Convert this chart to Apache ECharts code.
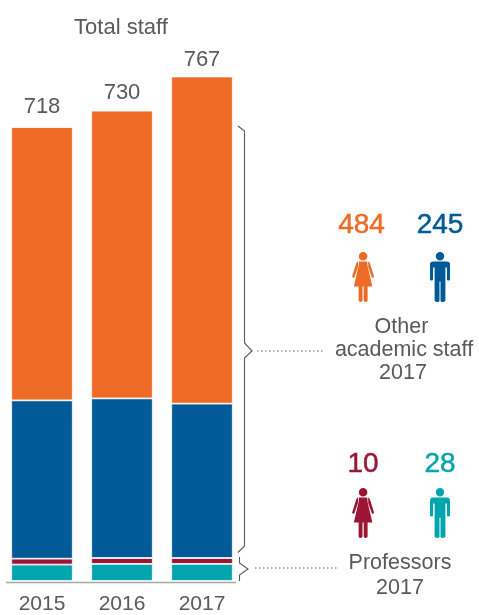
<!DOCTYPE html>
<html><head><meta charset="utf-8">
<style>html,body{margin:0;padding:0;background:#fff}#c{width:479px;height:615px}</style>
<script src="https://cdn.jsdelivr.net/npm/echarts@6/dist/echarts.min.js"></script>
</head><body><div id="c"></div>
<script>
const years = ['2015','2016','2017'];
const totals = [718,730,767];
const professorsMen = [25,26,26];
const professorsWomen = [9,9,9];
const otherMen = [241,243,235];
const otherWomen = [416,438,498];
const COL = {orange:'#EE6B26',blue:'#005A96',crimson:'#9B1534',teal:'#00A5AE',text:'#595959',line:'#5a5a5a'};
const FONT = '"Liberation Sans", Arial, sans-serif';
const totalLabelGap = [9.5,6.5,5.5];

const woman = 'M6.8 4.3A4.3 4.3 0 1 1 15.4 4.3A4.3 4.3 0 1 1 6.8 4.3ZM7 9.6H15.2L15.7 14.5L20.4 34.4H1.8L6.5 14.5ZM6 9.6C5 9.9 4.5 10.6 4.1 11.8L0 25L2.1 26L6 15ZM16.2 9.6C17.2 9.9 17.7 10.6 18.1 11.8L22.2 25L20.1 26L16.2 15ZM6.6 34.4H10.5V48.6Q10.5 50 8.5 50Q6.6 50 6.6 48.6ZM11.7 34.4H15.6V48.6Q15.6 50 13.7 50Q11.7 50 11.7 48.6Z';
const man = 'M5.8 4.3A4.2 4.2 0 1 1 14.2 4.3A4.2 4.2 0 1 1 5.8 4.3ZM3.2 9.6H16.8Q20 9.6 20 12.8V27Q20 28.6 18.5 28.6Q16.9 28.6 16.9 27V15.5H15.4V48.6Q15.4 50 13 50H12Q10.5 50 10.5 48.6V29.5H9.5V48.6Q9.5 50 8 50H7Q4.6 50 4.6 48.6V15.5H3.1V27Q3.1 28.6 1.5 28.6Q0 28.6 0 27V12.8Q0 9.6 3.2 9.6Z';
echarts.graphic.registerShape('womanIcon', echarts.graphic.extendPath(woman));
echarts.graphic.registerShape('manIcon', echarts.graphic.extendPath(man));

function txt(t,x,y,size,fill,heavy){return {type:'text',x:x,y:y,style:{text:t,x:0,y:0,fill:fill||COL.text,font:size+'px '+FONT,textAlign:'center',textVerticalAlign:'middle',stroke:heavy?fill:null,lineWidth:heavy?0.5:0}};}
function icon(kind,x,y,fill){return {type:kind,x:x,y:y,shape:{},style:{fill:fill}};}
function poly(pts){return {type:'polyline',shape:{points:pts},style:{stroke:COL.line,fill:null,lineWidth:1.1}};}
function dots(x1,x2,y){return {type:'line',shape:{x1:x1,y1:y,x2:x2,y2:y},style:{stroke:COL.line,lineWidth:1.2,lineDash:[1.5,2.5]}};}

function seg(name,data,color,extra){
  return Object.assign({type:'bar',name:name,stack:'s',data:data,barWidth:61.5,
    itemStyle:{color:color,borderColor:'#fff',borderWidth:0.8},silent:true,animation:false},extra||{});
}
const chart = echarts.init(document.getElementById('c'),null,{renderer:'canvas'});
chart.setOption({
  animation:false,
  grid:{left:2,width:240,top:55.5,height:526},
  xAxis:{type:'category',data:years,axisTick:{show:false},axisLine:{show:false},
    axisLabel:{color:COL.text,fontSize:21,fontFamily:FONT,margin:13}},
  yAxis:{type:'value',min:0,max:800,show:false},
  series:[
    seg('Professors men',professorsMen,COL.teal),
    seg('Professors women',professorsWomen,COL.crimson),
    seg('Other men',otherMen,COL.blue),
    seg('Other women',otherWomen.map((v,i)=>({value:v,label:{distance:totalLabelGap[i]}})),COL.orange,{label:{show:true,position:'top',color:COL.text,fontSize:22,fontFamily:FONT,
      formatter:p=>String(totals[p.dataIndex])}})
  ],
  graphic:{elements:[
    {type:'line',shape:{x1:6,y1:582.5,x2:236,y2:582.5},style:{stroke:'#a6a6a6',lineWidth:1.5}},
    txt('Total staff',121,27.5,22),
    poly([[238,126],[244.5,131],[244.5,343],[252,351],[244.5,358],[244.5,546],[238,552.5]]),
    poly([[239.5,557],[239.5,563],[248,569],[239.5,575],[239.5,581]]),
    dots(257,325,351),dots(255,337,568),
    txt('484',361.5,225,28,COL.orange,true),txt('245',440,225,28,COL.blue,true),
    icon('womanIcon',352,252,COL.orange),icon('manIcon',430,252,COL.blue),
    txt('Other',401.5,327.5,21.5),txt('academic staff',404,350.5,21.5),txt('2017',403,373.5,21.5),
    txt('10',363,464,28,COL.crimson,true),txt('28',440,464,28,COL.teal,true),
    icon('womanIcon',352,488,COL.crimson),icon('manIcon',430,488,COL.teal),
    txt('Professors',400,563.5,21.5),txt('2017',400,588.5,21.5)
  ]}
});
</script></body></html>
